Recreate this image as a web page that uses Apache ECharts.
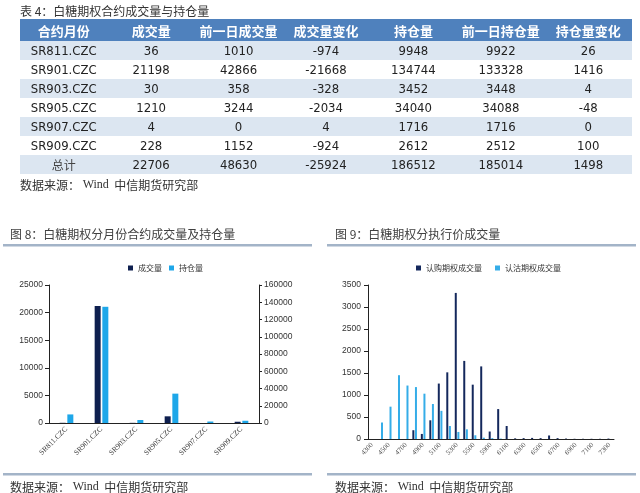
<!DOCTYPE html>
<html><head><meta charset="utf-8">
<script src="https://cdn.jsdelivr.net/npm/echarts@6/dist/echarts.min.js"></script>
<style>
html,body{margin:0;padding:0;background:#fff;width:640px;height:493px;overflow:hidden;}
#chart{position:absolute;left:0;top:0;width:640px;height:493px;}
#tbl{position:absolute;left:20px;top:19px;width:612px;z-index:2;}
table{border-collapse:collapse;width:612px;table-layout:fixed;}
th{height:22px;padding:0;background:#4f81bd;color:#fff;font-weight:bold;font-size:13px;font-family:"Noto Sans CJK SC",sans-serif;text-align:center;}
td{height:19px;padding:0;font-size:13px;color:#222;text-align:center;font-family:"Liberation Sans Narrow","DejaVu Sans Condensed","Noto Sans CJK SC",sans-serif;}
tr.s td{background:#dce6f1;}
td.zh{font-family:"Noto Sans CJK SC",sans-serif;color:#444;font-size:12px;}
</style></head>
<body>
<div id="chart"></div>
<div id="tbl"></div>
<script>
// ---- table data ----
const tableHeaders = ['合约月份','成交量','前一日成交量','成交量变化','持仓量','前一日持仓量','持仓量变化'];
const contracts = ['SR811.CZC','SR901.CZC','SR903.CZC','SR905.CZC','SR907.CZC','SR909.CZC'];
const volume = [36,21198,30,1210,4,228];
const prevVolume = [1010,42866,358,3244,0,1152];
const volumeChange = [-974,-21668,-328,-2034,4,-924];
const openInterest = [9948,134744,3452,34040,1716,2612];
const prevOpenInterest = [9922,133328,3448,34088,1716,2512];
const oiChange = [26,1416,4,-48,0,100];
const totalRow = ['总计',22706,48630,-25924,186512,185014,1498];

// ---- strike chart data ----
const strikes = ['4300','4400','4500','4600','4700','4800','4900','5000','5100','5200','5300','5400','5500','5600','5900','6000','6100','6200','6300','6400','6500','6600','6700','6800','6900','7000','7100','7200','7300'];
const callVolume = [0,0,0,0,0,200,115,425,1260,1515,3320,1775,1235,1650,170,680,295,15,20,25,20,80,20,10,5,5,5,5,10];
const putVolume  = [0,375,735,1450,1215,1180,1030,795,640,295,160,220,85,30,20,10,0,0,0,0,0,0,0,0,0,0,0,0,0];

// build table
(function(){
  let h = '<table><tr>' + tableHeaders.map(t=>'<th>'+t+'</th>').join('') + '</tr>';
  const rows = contracts.map((c,i)=>[c,volume[i],prevVolume[i],volumeChange[i],openInterest[i],prevOpenInterest[i],oiChange[i]]);
  rows.push(totalRow);
  rows.forEach((r,i)=>{
    h += '<tr class="'+(i%2===0?'s':'')+'">' + r.map((v,j)=>'<td'+(typeof v==='string'&&/[\u4e00-\u9fff]/.test(v)?' class="zh"':'')+'>'+v+'</td>').join('') + '</tr>';
  });
  h += '</table>';
  document.getElementById('tbl').innerHTML = h;
})();

const DARK = '#0e1f4f';
const LIGHT = '#1ea7e9';
const CJK = '"Noto Sans CJK SC", sans-serif';
const lineColor = '#a3b4c8';
const plain = v => String(v);

function srcText(x,y){
  return {type:'text', x:x, y:y, style:{text:'数据来源： {w|Wind}  中信期货研究部', font:'12px '+CJK, fill:'#333', verticalAlign:'middle',
    rich:{w:{fontFamily:'Liberation Serif', fontSize:12, fill:'#333'}}}};
}

const chart = echarts.init(document.getElementById('chart'));
chart.setOption({
  animation:false,
  graphic:[
    {type:'text', x:20, y:11, style:{text:'表 4：白糖期权合约成交量与持仓量', font:'12px '+CJK, fill:'#333', verticalAlign:'middle'}},
    srcText(20,185),
    {type:'text', x:10, y:234, style:{text:'图 8：白糖期权分月份合约成交量及持仓量', font:'12px '+CJK, fill:'#404040', verticalAlign:'middle'}},
    {type:'rect', shape:{x:3,y:244,width:309,height:2.5}, style:{fill:lineColor}},
    {type:'rect', shape:{x:3,y:473,width:309,height:2.5}, style:{fill:lineColor}},
    srcText(10,487),
    {type:'text', x:335, y:234, style:{text:'图 9：白糖期权分执行价成交量', font:'12px '+CJK, fill:'#404040', verticalAlign:'middle'}},
    {type:'rect', shape:{x:327,y:244,width:309,height:2.5}, style:{fill:lineColor}},
    {type:'rect', shape:{x:327,y:473,width:309,height:2.5}, style:{fill:lineColor}},
    srcText(335,487)
  ],
  legend:[
    {data:['成交量','持仓量'], left:123, top:259, icon:'rect', itemWidth:5, itemHeight:5, itemGap:7,
     textStyle:{fontSize:8, color:'#333', fontFamily:CJK}},
    {data:['认购期权成交量','认沽期权成交量'], left:411, top:259, icon:'rect', itemWidth:5, itemHeight:5, itemGap:13,
     textStyle:{fontSize:8, color:'#333', fontFamily:CJK}}
  ],
  grid:[
    {left:49, top:285, width:210, height:138},
    {left:368, top:285, width:246, height:154}
  ],
  xAxis:[
    {type:'category', gridIndex:0, data:contracts,
     axisLine:{lineStyle:{color:'#222'}}, axisTick:{inside:true,length:3,lineStyle:{color:'#222'}},
     axisLabel:{rotate:45, interval:0, fontSize:7.5, fontFamily:'Liberation Serif', color:'#333', margin:5}},
    {type:'category', gridIndex:1, data:strikes,
     axisLine:{lineStyle:{color:'#222'}}, axisTick:{inside:true,length:3,interval:0,lineStyle:{color:'#222'}},
     axisLabel:{rotate:45, interval:1, fontSize:7, fontFamily:'Liberation Serif', color:'#555', margin:5}}
  ],
  yAxis:[
    {type:'value', gridIndex:0, min:0, max:25000, interval:5000, position:'left',
     splitLine:{show:false}, axisLine:{show:true,lineStyle:{color:'#222'}}, axisTick:{show:true,length:4,lineStyle:{color:'#222'}},
     axisLabel:{fontSize:8.5, fontFamily:'Liberation Sans', color:'#333', margin:6, formatter:plain}},
    {type:'value', gridIndex:0, min:0, max:160000, interval:20000, position:'right',
     splitLine:{show:false}, axisLine:{show:true,lineStyle:{color:'#222'}}, axisTick:{show:true,length:3,lineStyle:{color:'#222'}},
     axisLabel:{fontSize:8.5, fontFamily:'Liberation Sans', color:'#333', margin:5, formatter:plain}},
    {type:'value', gridIndex:1, min:0, max:3500, interval:500,
     splitLine:{show:false}, axisLine:{show:true,lineStyle:{color:'#222'}}, axisTick:{show:true,length:4,lineStyle:{color:'#222'}},
     axisLabel:{fontSize:8.5, fontFamily:'Liberation Sans', color:'#333', margin:7, formatter:plain}}
  ],
  series:[
    {name:'成交量', type:'bar', xAxisIndex:0, yAxisIndex:0, data:volume, barWidth:6, barGap:'28%', itemStyle:{color:DARK}},
    {name:'持仓量', type:'bar', xAxisIndex:0, yAxisIndex:1, data:openInterest, barWidth:6, barGap:'28%', itemStyle:{color:LIGHT}},
    {name:'认购期权成交量', type:'bar', xAxisIndex:1, yAxisIndex:2, data:callVolume, barWidth:2, barGap:'30%', itemStyle:{color:'#14285c'}},
    {name:'认沽期权成交量', type:'bar', xAxisIndex:1, yAxisIndex:2, data:putVolume, barWidth:2, barGap:'30%', itemStyle:{color:'#35ade8'}}
  ]
});
</script>
</body></html>
